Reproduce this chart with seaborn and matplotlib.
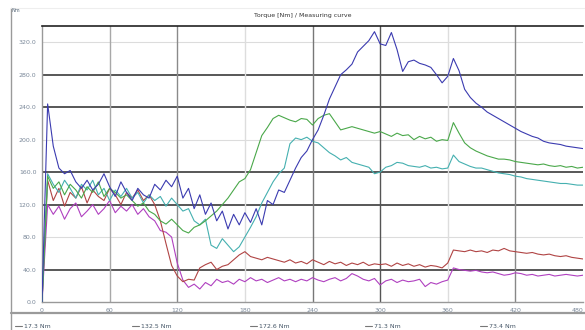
import numpy as np
import pandas as pd
import matplotlib
matplotlib.use("Agg")
import matplotlib.pyplot as plt
from matplotlib.lines import Line2D
import seaborn as sns

# time axis in seconds, one reading every 5 s
time_s = np.arange(0, 481, 5)

# torque readings [Nm], one row per minute
blue = [0, 244, 192, 165, 158, 162, 148, 140, 150, 138, 145, 158,
        142, 130, 148, 135, 125, 140, 132, 128, 145, 138, 150, 142,
        155, 128, 140, 115, 132, 108, 122, 100, 112, 90, 108, 95,
        110, 98, 115, 95, 125, 120, 138, 135, 150, 165, 178, 186,
        200, 212, 230, 250, 265, 280, 286, 293, 308, 315, 322, 333,
        318, 316, 332, 311, 284, 296, 298, 294, 292, 289, 280, 270,
        278, 300, 285, 262, 252, 245, 240, 234, 230, 226, 222, 218,
        214, 210, 207, 204, 202, 198, 196, 195, 194, 192, 191, 190,
        189]
green = [0, 155, 140, 148, 132, 145, 138, 128, 142, 135, 148, 130,
         140, 135, 128, 132, 125, 118, 122, 112, 108, 100, 96, 102,
         95, 88, 85, 92, 95, 100, 106, 112, 120, 128, 138, 148,
         152, 163, 184, 205, 215, 226, 230, 227, 224, 222, 226, 225,
         218, 226, 230, 232, 222, 212, 214, 216, 214, 212, 210, 208,
         210, 207, 204, 208, 205, 206, 200, 204, 201, 203, 198, 200,
         199, 221, 208, 196, 190, 186, 183, 180, 178, 176, 176, 175,
         173, 172, 171, 170, 169, 170, 168, 167, 168, 166, 167, 165,
         166]
teal = [0, 158, 145, 135, 150, 140, 128, 145, 138, 150, 132, 140,
        125, 138, 130, 140, 128, 135, 122, 132, 125, 130, 118, 128,
        120, 112, 115, 100, 95, 102, 70, 66, 78, 70, 62, 68,
        80, 92, 105, 122, 135, 148, 158, 165, 195, 202, 200, 203,
        198, 196, 190, 184, 180, 175, 178, 172, 170, 168, 166, 158,
        160, 166, 168, 172, 171, 168, 167, 166, 168, 165, 166, 164,
        165, 181, 173, 170, 167, 165, 165, 163, 161, 159, 158, 157,
        155, 154, 152, 151, 150, 149, 148, 147, 146, 146, 145, 144,
        144]
red = [0, 150, 125, 140, 118, 135, 128, 142, 122, 138, 130, 125,
       140, 132, 120, 135, 128, 138, 125, 132, 120, 100, 72, 45,
       32, 25, 28, 27, 42, 46, 49, 40, 44, 46, 52, 58,
       62, 56, 54, 52, 55, 53, 51, 49, 52, 48, 50, 47,
       52, 49, 46, 50, 47, 49, 45, 48, 46, 49, 45, 47,
       46, 47, 44, 48, 45, 47, 44, 46, 43, 45, 44, 42,
       48, 64, 63, 62, 64, 62, 63, 61, 64, 63, 66, 63,
       62, 61, 60, 61, 59, 58, 59, 57, 56, 57, 55, 54,
       53]
magenta = [0, 120, 108, 118, 102, 115, 122, 105, 112, 120, 108, 115,
           125, 110, 118, 112, 120, 108, 115, 105, 100, 88, 86, 80,
           48, 27, 18, 22, 16, 24, 20, 28, 24, 26, 22, 28,
           25, 30, 26, 28, 24, 27, 30, 26, 28, 25, 28, 26,
           30, 27, 25, 28, 30, 26, 29, 35, 32, 28, 26, 29,
           21, 26, 28, 24, 27, 25, 26, 28, 19, 24, 22, 25,
           27, 42, 40, 39, 38, 39, 37, 36, 37, 35, 33, 34,
           36, 35, 33, 34, 32, 33, 34, 32, 33, 34, 33, 32,
           33]

series_names = ["magenta", "red", "teal", "green", "blue"]
series_values = [magenta, red, teal, green, blue]
colors = {"blue": "#3b3bb0", "green": "#4aa84a", "teal": "#45b0b0",
          "red": "#b04444", "magenta": "#b040c0"}

legend_labels = ["17.3 Nm", "132.5 Nm", "172.6 Nm", "71.3 Nm", "73.4 Nm"]

x_ticks = [0, 60, 120, 180, 240, 300, 360, 420, 480]
y_ticks = [0, 40, 80, 120, 160, 200, 240, 280, 320]

frames = [pd.DataFrame({"time": time_s, "torque": v, "curve": n})
          for n, v in zip(series_names, series_values)]
df = pd.concat(frames, ignore_index=True)

sns.set_style("white")
plt.rcParams["font.family"] = ["DejaVu Sans"]

fig = plt.figure(figsize=(5.85, 3.3), dpi=100)
ax = fig.add_axes([42 / 585, 1 - 302 / 330, 541 / 585, 276 / 330])

# grid first so the curves sit on top
h_dark = [40, 120, 160, 240, 280]
for v in y_ticks[1:]:
    if v in h_dark:
        ax.axhline(v, color="#2a2a2a", lw=1.1, zorder=1)
    else:
        ax.axhline(v, color="#dcdcdc", lw=0.8, zorder=1)
v_style = {60: "#a8a8a8", 120: "#8a8a8a", 180: "#dddddd", 240: "#777777",
           300: "#555555", 360: "#dddddd", 420: "#888888"}
for v, c in v_style.items():
    ax.axvline(v, color=c, lw=1.0, zorder=1)

sns.lineplot(data=df, x="time", y="torque", hue="curve", palette=colors,
             hue_order=series_names, linewidth=0.8, legend=False,
             errorbar=None, ax=ax, zorder=3)

ax.set_xlim(0, 480)
ax.set_ylim(0, 340)
ax.set_xticks(x_ticks)
ax.set_xticklabels([str(t) for t in x_ticks])
ax.set_yticks(y_ticks)
ax.set_yticklabels([f"{v:.1f}" for v in y_ticks])
ax.tick_params(axis="both", labelsize=4.5, colors="#7a8899", length=2,
               width=0.6, pad=2)
ax.tick_params(axis="y", color="#333333")
# keep the last x label inside the figure
ax.get_xticklabels()[-1].set_ha("right")
ax.set_xlabel("")
ax.set_ylabel("")
for side in ["left", "bottom"]:
    ax.spines[side].set_color("#999999")
    ax.spines[side].set_linewidth(1.0)
ax.spines["top"].set_color("#222222")
ax.spines["top"].set_linewidth(1.2)
ax.spines["right"].set_visible(False)

# outer panel frame
fig.add_artist(Line2D([11 / 585, 11 / 585], [1 - 8 / 330, 0], color="#9a9a9a",
                      lw=1.0, transform=fig.transFigure))
fig.add_artist(Line2D([11 / 585, 1], [1 - 8 / 330, 1 - 8 / 330],
                      color="#eeeeee", lw=0.8, transform=fig.transFigure))
fig.add_artist(Line2D([11 / 585, 1], [1 - 313 / 330, 1 - 313 / 330],
                      color="#9a9a9a", lw=1.6, transform=fig.transFigure))

fig.text(12 / 585, 1 - 11 / 330, "Nm", fontsize=3.5, color="#556677",
         va="center", ha="left")
fig.text(303 / 585, 1 - 15 / 330, "Torque [Nm] / Measuring curve",
         fontsize=4.5, color="#333333", ha="center", va="center")

# bottom legend strip
legend_x = [15, 132, 250, 365, 480]
legend_order = ["blue", "green", "teal", "red", "magenta"]
for lx, lab, name in zip(legend_x, legend_labels, legend_order):
    fig.add_artist(Line2D([lx / 585, (lx + 7) / 585],
                          [1 - 326 / 330, 1 - 326 / 330],
                          color="#777777", lw=0.8, transform=fig.transFigure))
    fig.text((lx + 9) / 585, 1 - 326 / 330, lab, fontsize=4.5,
             color="#445566", ha="left", va="center")

fig.savefig("out.png", dpi=100)
